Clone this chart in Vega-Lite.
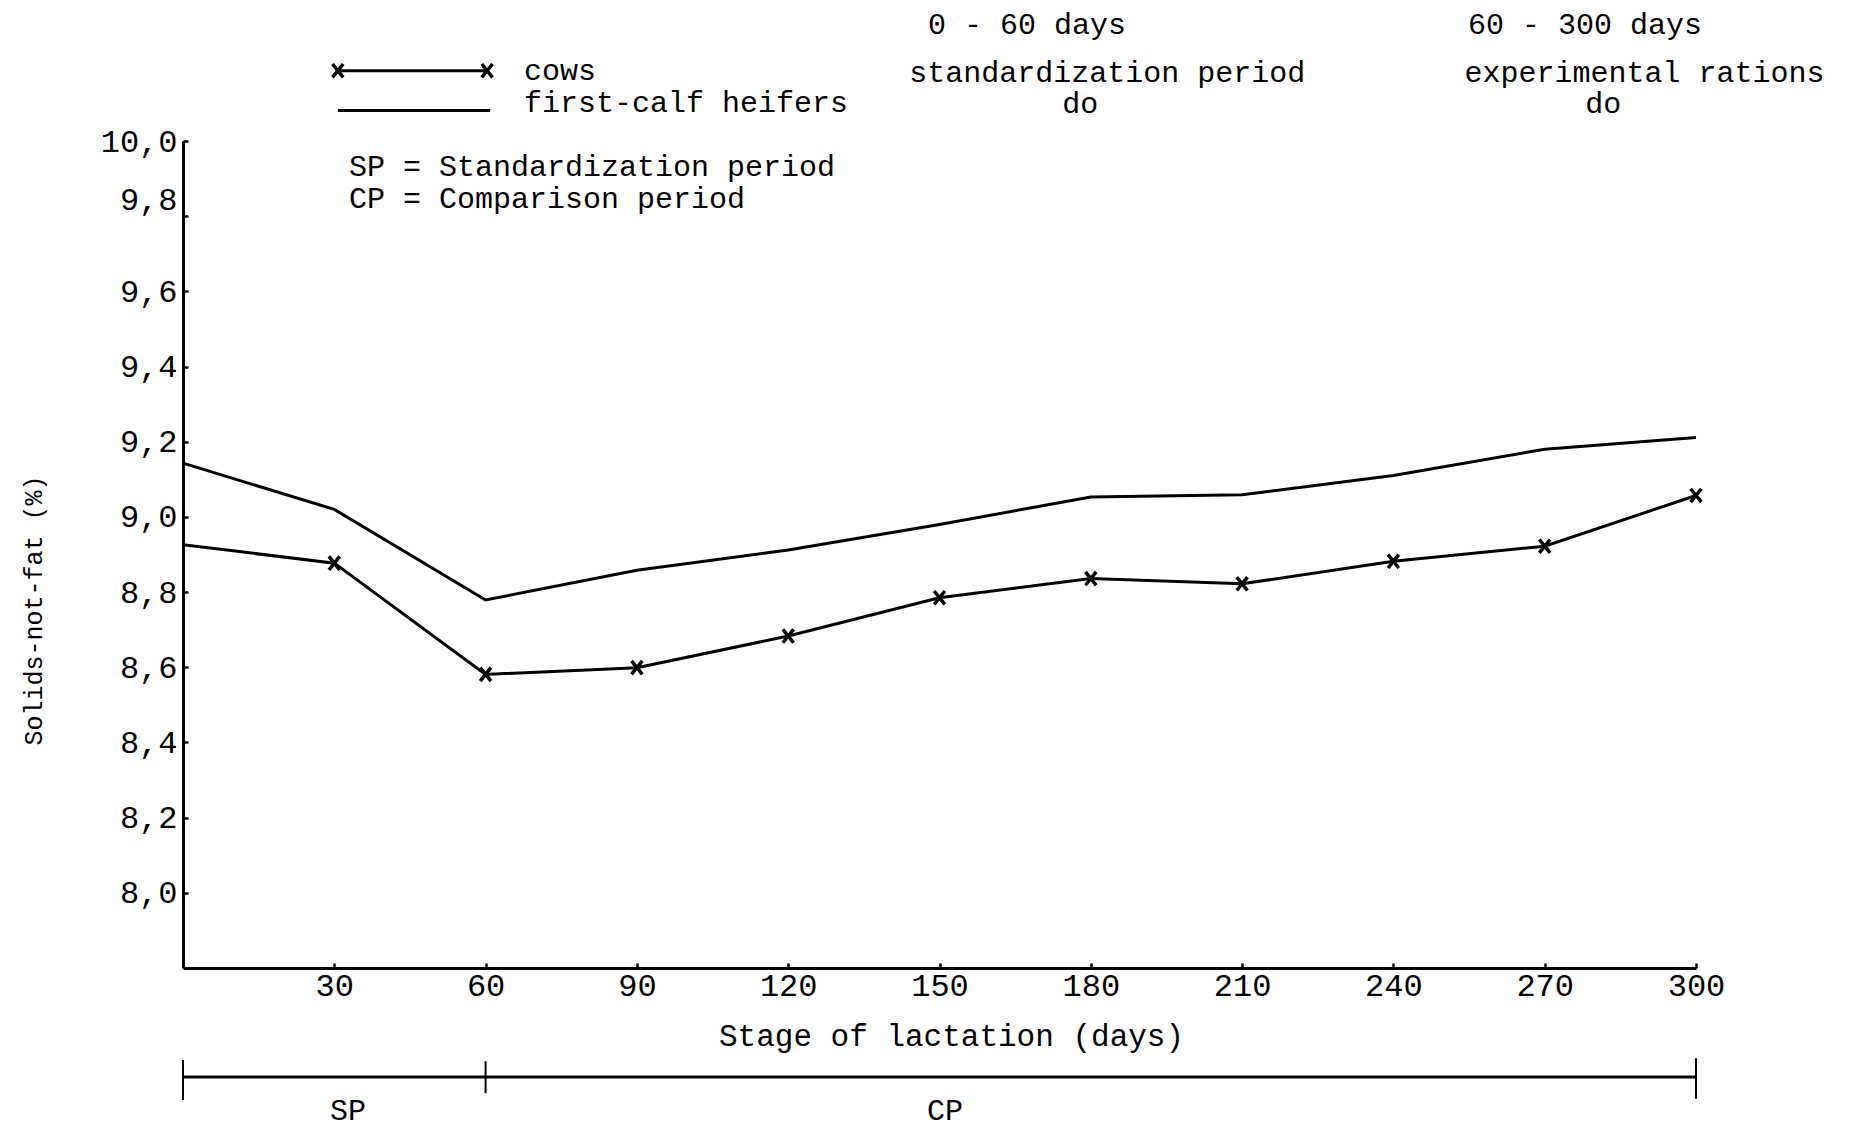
{
  "$schema": "https://vega.github.io/schema/vega-lite/v6.json",
  "width": 1513,
  "height": 827,
  "autosize": {"type": "none"},
  "padding": {"left": 183, "top": 141, "right": 163, "bottom": 161},
  "background": "white",
  "config": {
    "view": {"stroke": null},
    "font": "Liberation Mono",
    "axis": {
      "grid": false,
      "domainColor": "black",
      "domainWidth": 3,
      "tickColor": "black",
      "tickWidth": 2.5,
      "labelColor": "black",
      "labelFont": "Liberation Mono",
      "labelFontSize": 32,
      "titleFont": "Liberation Mono",
      "titleFontWeight": "normal",
      "titleColor": "black"
    }
  },
  "datasets": {
    "series": [
      {"day": 0, "sample": "first-calf heifers", "snf": 9.143},
      {"day": 30, "sample": "first-calf heifers", "snf": 9.02},
      {"day": 60, "sample": "first-calf heifers", "snf": 8.779},
      {"day": 90, "sample": "first-calf heifers", "snf": 8.858},
      {"day": 120, "sample": "first-calf heifers", "snf": 8.912},
      {"day": 150, "sample": "first-calf heifers", "snf": 8.98},
      {"day": 180, "sample": "first-calf heifers", "snf": 9.053},
      {"day": 210, "sample": "first-calf heifers", "snf": 9.059},
      {"day": 240, "sample": "first-calf heifers", "snf": 9.11},
      {"day": 270, "sample": "first-calf heifers", "snf": 9.18},
      {"day": 300, "sample": "first-calf heifers", "snf": 9.211},
      {"day": 0, "sample": "cows", "snf": 8.926},
      {"day": 30, "sample": "cows", "snf": 8.877},
      {"day": 60, "sample": "cows", "snf": 8.581},
      {"day": 90, "sample": "cows", "snf": 8.599},
      {"day": 120, "sample": "cows", "snf": 8.683},
      {"day": 150, "sample": "cows", "snf": 8.785},
      {"day": 180, "sample": "cows", "snf": 8.836},
      {"day": 210, "sample": "cows", "snf": 8.822},
      {"day": 240, "sample": "cows", "snf": 8.882},
      {"day": 270, "sample": "cows", "snf": 8.922},
      {"day": 300, "sample": "cows", "snf": 9.057}
    ],
    "legendLines": [
      {"x": 30.7, "y": 10.187, "key": "cows"},
      {"x": 60.3, "y": 10.187, "key": "cows"},
      {"x": 30.7, "y": 10.081, "key": "first-calf heifers"},
      {"x": 60.9, "y": 10.081, "key": "first-calf heifers"}
    ],
    "notesLeft": [
      {"x": 67.6, "y": 10.187, "label": "cows"},
      {"x": 67.6, "y": 10.101, "label": "first-calf heifers"},
      {"x": 32.9, "y": 9.932, "label": "SP = Standardization period"},
      {"x": 32.9, "y": 9.847, "label": "CP = Comparison period"},
      {"x": 147.7, "y": 10.309, "label": "0 - 60 days"},
      {"x": 144.0, "y": 10.18, "label": "standardization period"},
      {"x": 254.8, "y": 10.309, "label": "60 - 300 days"},
      {"x": 254.1, "y": 10.18, "label": "experimental rations"}
    ],
    "notesCenter": [
      {"x": 177.9, "y": 10.098, "label": "do"},
      {"x": 281.6, "y": 10.098, "label": "do"},
      {"x": 32.7, "y": 7.42, "label": "SP"},
      {"x": 151.1, "y": 7.42, "label": "CP"}
    ],
    "periodBar": [
      {"x": 0, "x2": 300, "y": 7.51}
    ],
    "periodTicks": [
      {"x": 0, "y": 7.555, "y2": 7.449},
      {"x": 60, "y": 7.552, "y2": 7.467},
      {"x": 300, "y": 7.56, "y2": 7.452}
    ]
  },
  "layer": [
    {
      "data": {"name": "series"},
      "mark": {"type": "line", "color": "black", "strokeWidth": 3},
      "encoding": {
        "x": {
          "field": "day", "type": "quantitative",
          "scale": {"domain": [0, 300], "nice": false, "zero": true},
          "axis": {
            "values": [30, 60, 90, 120, 150, 180, 210, 240, 270, 300],
            "tickSize": -5,
            "labelPadding": 7,
            "labelFlush": false,
            "labelFontSize": 32,
            "title": "Stage of lactation (days)",
            "titleFontSize": 31,
            "titleX": 768,
            "titleY": 68,
            "titleAlign": "center",
            "titleBaseline": "middle"
          }
        },
        "y": {
          "field": "snf", "type": "quantitative",
          "scale": {"domain": [7.8, 10.0], "nice": false, "zero": false},
          "axis": {
            "values": [8.0, 8.2, 8.4, 8.6, 8.8, 9.0, 9.2, 9.4, 9.6, 9.8, 10.0],
            "labelExpr": "replace(format(datum.value, '.1f'), '.', ',')",
            "tickSize": -5,
            "labelPadding": 11,
            "labelBaseline": "middle",
            "labelFlush": false,
            "labelOffset": {"condition": {"test": "datum.value > 9.75 && datum.value < 9.85", "value": -17}, "value": 0},
            "title": "Solids-not-fat (%)",
            "titleFontSize": 25,
            "titleAngle": -90,
            "titleX": -150,
            "titleY": 469,
            "titleAlign": "center",
            "titleBaseline": "middle"
          }
        },
        "detail": {"field": "sample", "type": "nominal"}
      }
    },
    {
      "data": {"name": "series"},
      "transform": [{"filter": "datum.sample == 'cows' && datum.day > 0"}],
      "mark": {
        "type": "point",
        "shape": "M-0.8,-1L0.8,1M0.8,-1L-0.8,1",
        "filled": false,
        "stroke": "black",
        "strokeWidth": 3.5,
        "size": 180,
        "opacity": 1
      },
      "encoding": {
        "x": {"field": "day", "type": "quantitative"},
        "y": {"field": "snf", "type": "quantitative"}
      }
    },
    {
      "data": {"name": "legendLines"},
      "mark": {"type": "line", "color": "black", "strokeWidth": 3},
      "encoding": {
        "x": {"field": "x", "type": "quantitative"},
        "y": {"field": "y", "type": "quantitative"},
        "detail": {"field": "key", "type": "nominal"}
      }
    },
    {
      "data": {"name": "legendLines"},
      "transform": [{"filter": "datum.key == 'cows'"}],
      "mark": {
        "type": "point",
        "shape": "M-0.8,-1L0.8,1M0.8,-1L-0.8,1",
        "filled": false,
        "stroke": "black",
        "strokeWidth": 3.5,
        "size": 180,
        "opacity": 1
      },
      "encoding": {
        "x": {"field": "x", "type": "quantitative"},
        "y": {"field": "y", "type": "quantitative"}
      }
    },
    {
      "data": {"name": "notesLeft"},
      "mark": {"type": "text", "align": "left", "baseline": "middle", "fontSize": 30, "font": "Liberation Mono", "color": "black"},
      "encoding": {
        "x": {"field": "x", "type": "quantitative"},
        "y": {"field": "y", "type": "quantitative"},
        "text": {"field": "label"}
      }
    },
    {
      "data": {"name": "notesCenter"},
      "mark": {"type": "text", "align": "center", "baseline": "middle", "fontSize": 30, "font": "Liberation Mono", "color": "black"},
      "encoding": {
        "x": {"field": "x", "type": "quantitative"},
        "y": {"field": "y", "type": "quantitative"},
        "text": {"field": "label"}
      }
    },
    {
      "data": {"name": "periodBar"},
      "mark": {"type": "rule", "color": "black", "strokeWidth": 3},
      "encoding": {
        "x": {"field": "x", "type": "quantitative"},
        "x2": {"field": "x2"},
        "y": {"field": "y", "type": "quantitative"}
      }
    },
    {
      "data": {"name": "periodTicks"},
      "mark": {"type": "rule", "color": "black", "strokeWidth": 2},
      "encoding": {
        "x": {"field": "x", "type": "quantitative"},
        "y": {"field": "y", "type": "quantitative"},
        "y2": {"field": "y2"}
      }
    }
  ]
}
